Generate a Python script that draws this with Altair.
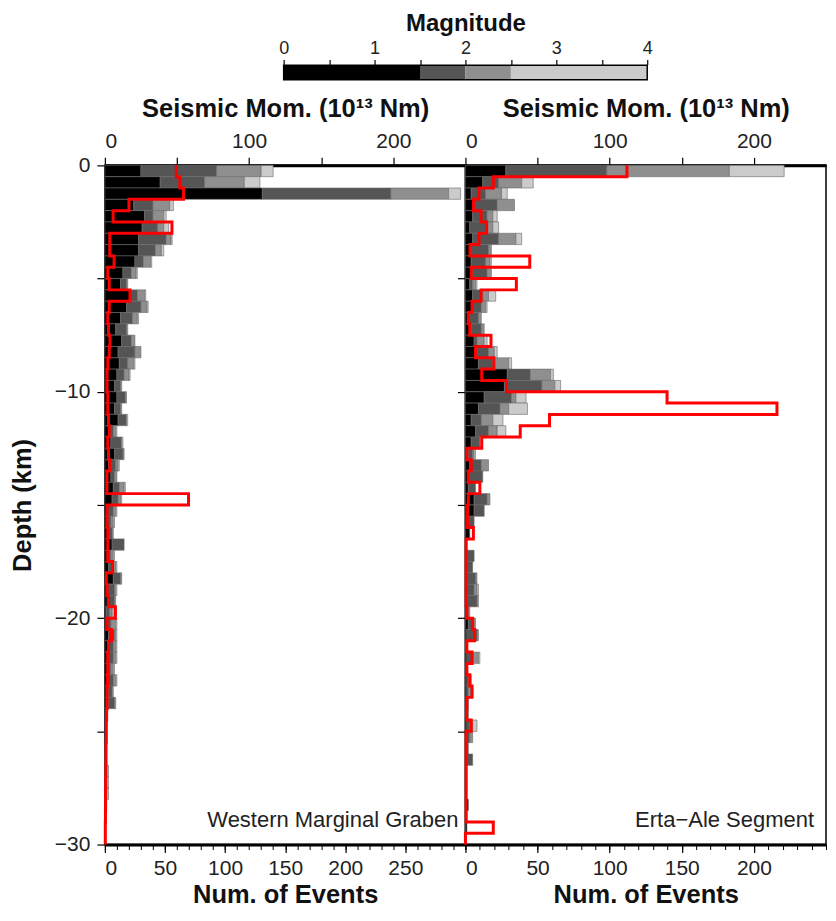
import altair as alt
import pandas as pd

FONT = "Liberation Sans"

# depth bins (top of each 0.5 km bin)
BIN_SIZE = 0.5
DEPTH_TOP = [-0.5 * i for i in range(60)]
DEPTH_TICKS = [0, -5, -10, -15, -20, -25, -30]

MAG_CLASSES = ["M 0-1.5", "M 1.5-2", "M 2-2.5", "M 2.5-4"]
MAG_EDGES = [0, 1.5, 2, 2.5, 4]
MAG_TICKS = [0, 0.5, 1, 1.5, 2, 2.5, 3, 3.5, 4]
MAG_COLORS = ["#000000", "#555555", "#8f8f8f", "#cbcbcb"]

# ---- Western Marginal Graben: number of events per magnitude class ----
WMG_M1 = [30, 46, 131, 24, 33, 31, 28, 28, 25, 15,
          13, 21, 18, 13, 9, 14, 11, 12, 10, 8,
          10, 8, 11, 4, 5, 8, 3, 5, 7, 6,
          2, 2, 3, 6, 2, 3, 7, 2, 2, 1,
          1, 3, 3, 2, 2, 3, 3, 3, 1, 1,
          1, 1, 0, 0, 0, 0, 0, 0, 0, 0]
WMG_M2 = [63, 37, 107, 16, 7, 13, 23, 14, 7, 7,
          5, 6, 12, 10, 9, 8, 14, 7, 6, 5,
          7, 5, 7, 3, 9, 7, 6, 3, 5, 5,
          5, 3, 3, 10, 3, 4, 6, 6, 6, 3,
          4, 5, 4, 5, 3, 4, 3, 5, 0, 0,
          0, 0, 0, 0, 0, 0, 0, 0, 0, 0]
WMG_M3 = [37, 33, 48, 14, 9, 5, 4, 5, 6, 4,
          1, 6, 5, 4, 1, 3, 5, 5, 4, 1,
          1, 1, 0, 2, 0, 1, 2, 2, 4, 2,
          2, 2, 1, 0, 2, 2, 1, 1, 1, 2,
          4, 1, 2, 2, 2, 2, 1, 1, 0, 0,
          0, 0, 0, 1, 1, 1, 0, 0, 0, 0]
WMG_M4 = [10, 13, 10, 3, 2, 4, 1, 2, 1, 1,
          0, 1, 1, 1, 0, 0, 0, 1, 1, 0,
          0, 0, 1, 1, 1, 0, 1, 0, 1, 1,
          1, 1, 0, 0, 1, 1, 0, 1, 0, 1,
          1, 1, 1, 1, 1, 1, 0, 0, 0, 0,
          0, 0, 1, 2, 2, 2, 0, 0, 0, 0]
# seismic moment (10^13 Nm) per bin
WMG_MOMENT = [49.5, 52, 54.5, 16.7, 5.7, 46.5, 3.4, 3.4, 6.4, 2,
              3, 17.4, 3, 2, 2.5, 3.5, 3, 2, 1.5, 1.5,
              2, 2, 2.5, 3, 2, 2.5, 3.5, 1.4, 1.4, 58,
              1.5, 1.5, 2, 2, 2, 5.3, 1, 1.5, 2.5, 7.3,
              1.5, 4.6, 2.5, 2, 2, 1.8, 1.5, 1.5, 1.2, 1,
              1, 0.8, 0.8, 0.7, 0.6, 0.5, 0.5, 0.4, 0.3, 0.3]

# ---- Erta-Ale Segment ----
EAS_M1 = [28, 12, 4, 6, 5, 3, 5, 4, 4, 5,
          3, 5, 5, 3, 4, 6, 8, 9, 29, 27,
          13, 9, 4, 7, 4, 2, 3, 3, 2, 6,
          6, 1, 3, 1, 1, 1, 1, 1, 1, 1,
          2, 1, 0, 1, 1, 1, 1, 1, 1, 1,
          1, 1, 1, 1, 1, 1, 2, 1, 1, 0]
EAS_M2 = [70, 11, 10, 16, 10, 11, 18, 12, 10, 10,
          2, 7, 6, 6, 7, 2, 8, 10, 16, 26,
          19, 15, 7, 9, 6, 3, 8, 9, 5, 9,
          7, 5, 0, 0, 5, 4, 6, 5, 7, 1,
          3, 7, 1, 3, 0, 1, 1, 1, 1, 2,
          2, 1, 4, 0, 0, 0, 0, 0, 0, 0]
EAS_M3 = [85, 16, 11, 12, 4, 5, 12, 2, 3, 3,
          2, 4, 3, 2, 2, 5, 4, 11, 14, 9,
          3, 6, 8, 6, 0, 1, 5, 0, 0, 2,
          0, 0, 0, 0, 0, 0, 1, 2, 1, 1,
          2, 1, 0, 5, 0, 2, 2, 0, 0, 2,
          2, 0, 0, 0, 0, 0, 0, 0, 0, 0]
EAS_M4 = [38, 8, 4, 0, 3, 4, 4, 0, 1, 0,
          1, 5, 1, 0, 0, 2, 2, 2, 2, 4,
          7, 13, 7, 6, 0, 1, 0, 0, 0, 0,
          0, 0, 0, 0, 0, 0, 0, 1, 0, 0,
          0, 0, 0, 1, 0, 0, 1, 0, 0, 3,
          0, 0, 0, 0, 0, 0, 0, 0, 0, 0]
EAS_MOMENT = [112, 19.3, 9.4, 5.5, 10.8, 14.7, 9.4, 3.2, 44.6, 4,
              35.3, 10.8, 4.6, 2, 3, 17.7, 7, 19.7, 11.3, 28.5,
              139.8, 216, 58.3, 38, 11.3, 1, 4, 2, 10, 2,
              1.5, 1.5, 5.5, 0.5, 0.5, 0.5, 0.5, 0.5, 0.5, 1,
              5, 6.4, 1, 4.6, 1, 3, 4.6, 1, 0.8, 4,
              0.5, 0.5, 0.5, 0.5, 0.5, 0.5, 0.5, 0.5, 19.3, 0]

PANEL_W = 361
PANEL_H = 680
CB_W = 364
LABEL_SIZE = 21
TITLE_SIZE = 25.5
TEXT_COLOR = "#222222"

color_scale = alt.Scale(domain=MAG_CLASSES, range=MAG_COLORS)
y_scale = alt.Scale(domain=[-30, 0], nice=False, zero=False)


def y_axis(show_labels):
    return alt.Axis(
        values=DEPTH_TICKS,
        labelExpr="datum.value % 10 == 0 ? datum.label : ''",
        labels=show_labels,
        title="Depth (km)" if show_labels else None,
        tickSize=8, tickWidth=1.2, tickColor="black",
        domain=False, grid=False,
        labelFontSize=LABEL_SIZE, labelPadding=7,
        titleFontSize=TITLE_SIZE, titleFontWeight="bold", titlePadding=19,
    )


def panel(c1, c2, c3, c4, moment, ev_max, ev_label_max, name, name_dx, show_y):
    rows = []
    for i, top in enumerate(DEPTH_TOP):
        start = 0
        for cls, vals in zip(MAG_CLASSES, (c1, c2, c3, c4)):
            v = vals[i]
            if v > 0:
                rows.append(dict(top=top, bottom=top - BIN_SIZE,
                                 x0=start, x1=start + v, cls=cls))
            start += v
    bars_df = pd.DataFrame(rows)

    line_rows = []
    for i, top in enumerate(DEPTH_TOP):
        line_rows.append(dict(m=moment[i], d=top, idx=2 * i))
        line_rows.append(dict(m=moment[i], d=top - BIN_SIZE, idx=2 * i + 1))
    line_df = pd.DataFrame(line_rows)

    ev_scale = alt.Scale(domain=[0, ev_max], nice=False, zero=False)
    yax = y_axis(show_y)

    bars = alt.Chart(bars_df).mark_bar(stroke="#6a6a6a", strokeWidth=0.6).encode(
        x=alt.X("x0:Q", scale=ev_scale, axis=alt.Axis(
            orient="bottom", values=list(range(0, ev_label_max + 1, 50)),
            title="Num. of Events", tickSize=8, tickWidth=1.2, tickColor="black",
            domainWidth=3, domainColor="black", grid=False,
            labelFontSize=LABEL_SIZE, labelPadding=5,
            titleFontSize=TITLE_SIZE, titleFontWeight="bold", titlePadding=4)),
        x2="x1:Q",
        y=alt.Y("top:Q", scale=y_scale, axis=yax),
        y2="bottom:Q",
        color=alt.Color("cls:N", scale=color_scale, legend=None),
    )

    minor = alt.Chart(bars_df).mark_point(opacity=0).encode(
        x=alt.X("x0:Q", scale=ev_scale, axis=alt.Axis(
            orient="bottom", values=list(range(0, ev_max + 1, 10)),
            labels=False, title=None, tickSize=5, tickWidth=1, tickColor="black",
            domain=False, grid=False)),
        y=alt.Y("top:Q", scale=y_scale, axis=yax),
    )

    line = alt.Chart(line_df).mark_line(color="#ff0000", strokeWidth=3,
                                        strokeJoin="miter").encode(
        x=alt.X("m:Q", scale=alt.Scale(domain=[0, 250], nice=False, zero=False),
                axis=alt.Axis(
                    orient="top", values=[0, 50, 100, 150, 200],
                    labelExpr="datum.value % 100 == 0 ? datum.label : ''",
                    title="Seismic Mom. (10¹³ Nm)", tickSize=8, tickWidth=1.2,
                    tickColor="black", domainWidth=3, domainColor="black",
                    grid=False, labelFontSize=LABEL_SIZE, labelPadding=6,
                    titleFontSize=TITLE_SIZE, titleFontWeight="bold",
                    titlePadding=9)),
        y=alt.Y("d:Q", scale=y_scale, axis=yax),
        order="idx:Q",
    )

    label = alt.Chart(pd.DataFrame({"t": [name]})).mark_text(
        align="right", baseline="alphabetic", fontSize=22, font=FONT,
        color=TEXT_COLOR,
    ).encode(text="t:N", x=alt.value(PANEL_W - name_dx), y=alt.value(PANEL_H - 18))

    return alt.layer(bars, minor, line, label).resolve_scale(x="independent").properties(
        width=PANEL_W, height=PANEL_H)


left = panel(WMG_M1, WMG_M2, WMG_M3, WMG_M4, WMG_MOMENT, 300, 250,
             "Western Marginal Graben", 7, True)
right = panel(EAS_M1, EAS_M2, EAS_M3, EAS_M4, EAS_MOMENT, 250, 200,
              "Erta\u2212Ale Segment", 12, False)

# colour bar: spans the full width of both panels, the 0-4 range sits centred
cb_pad_units = (2 * PANEL_W - CB_W) / 2 / (CB_W / (MAG_EDGES[-1] - MAG_EDGES[0]))
cb_df = pd.DataFrame({"lo": MAG_EDGES[:-1], "hi": MAG_EDGES[1:], "cls": MAG_CLASSES})
cb_frame_df = pd.DataFrame({"lo": [MAG_EDGES[0]], "hi": [MAG_EDGES[-1]]})
cb_scale = alt.Scale(domain=[MAG_EDGES[0] - cb_pad_units, MAG_EDGES[-1] + cb_pad_units],
                     nice=False, zero=False)
cb_axis = alt.Axis(orient="top", values=MAG_TICKS,
                   labelExpr="datum.value % 1 == 0 ? format(datum.value, 'd') : ''",
                   title="Magnitude", tickSize=5, tickWidth=1.2,
                   tickColor="black", domain=False, grid=False,
                   labelFontSize=18, labelPadding=2,
                   titleFontSize=24, titleFontWeight="bold",
                   titlePadding=4)
cb_bars = alt.Chart(cb_df).mark_bar().encode(
    x=alt.X("lo:Q", scale=cb_scale, axis=cb_axis),
    x2="hi:Q",
    color=alt.Color("cls:N", scale=color_scale, legend=None),
)
cb_frame = alt.Chart(cb_frame_df).mark_bar(filled=False, stroke="black",
                                          strokeWidth=1.5).encode(
    x=alt.X("lo:Q", scale=cb_scale, axis=cb_axis),
    x2="hi:Q",
)
cbar = alt.layer(cb_bars, cb_frame).properties(
    width=2 * PANEL_W, height=16, view=alt.ViewBackground(stroke=None))

panels = alt.hconcat(left, right, spacing=0, bounds="flush")
chart = alt.vconcat(cbar, panels, spacing=85, bounds="flush").configure_view(
    stroke="black", strokeWidth=1.5
).configure_axis(
    labelFont=FONT, titleFont=FONT, labelColor=TEXT_COLOR, titleColor="#111111",
).properties(padding={"left": 1, "top": 3, "right": 0, "bottom": 0})

chart.save("out.html", embed_options={"renderer": "svg", "actions": False})
